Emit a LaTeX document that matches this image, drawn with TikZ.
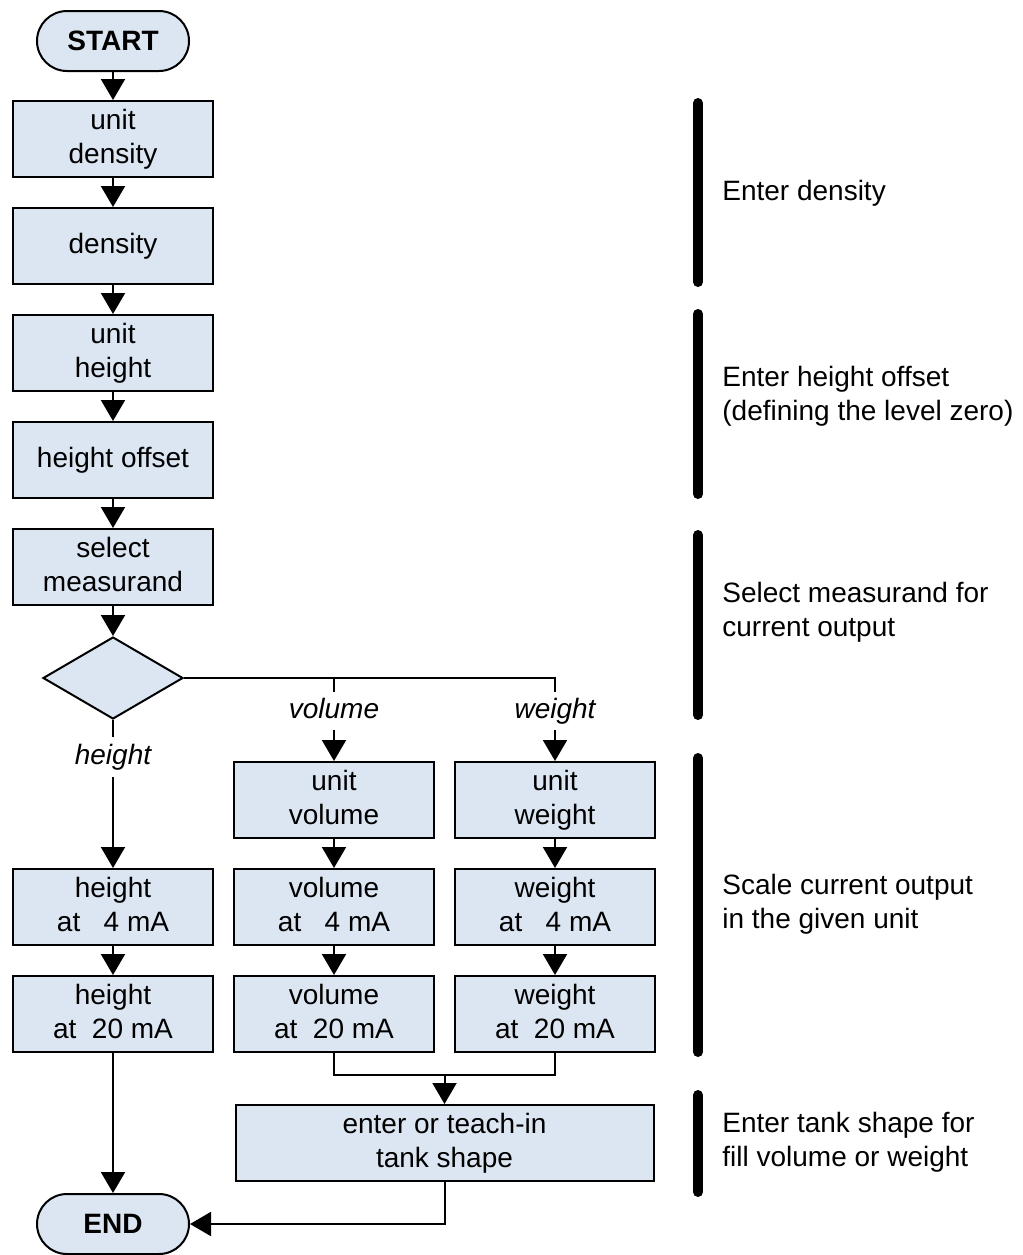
\documentclass[tikz,border=0pt]{standalone}
\usepackage{fontspec}
\setmainfont{Liberation Sans}
\usepackage{xcolor}
\usetikzlibrary{arrows.meta,positioning,shapes.geometric,calc}
\definecolor{boxfill}{RGB}{220,230,242}

\begin{document}
\begin{tikzpicture}[
  x=0.5pt, y=-0.5pt,
  font=\fontsize{14}{17}\selectfont,
  node distance=14.5pt and 9.5pt,
  box/.style={draw, fill=boxfill, line width=1pt, align=center,
      minimum width=100pt, minimum height=38pt, inner sep=1.5pt,
      execute at begin node={\rule{0pt}{10.5pt}},
      execute at end node={\rule[-3pt]{0pt}{3pt}}},
  term/.style={draw, fill=boxfill, line width=1pt, rounded corners=15pt,
      minimum width=76pt, minimum height=30pt,
      font=\fontsize{14}{17}\selectfont\bfseries},
  decision/.style={draw, fill=boxfill, line width=1pt, diamond,
      inner sep=0pt, minimum width=70pt, minimum height=41pt},
  branch/.style={inner sep=0pt, text height=10pt, text depth=3pt,
      font=\fontsize{14}{17}\selectfont\itshape},
  stage/.style={line width=5pt, line cap=round},
  note/.style={anchor=west, align=left, inner sep=0pt},
  link/.style={line width=1pt},
  arrow/.style={-{Triangle[length=10.5pt,width=12pt]}, line width=1pt}
]
\useasboundingbox (0,0) rectangle (1023,1255);
% main column
\node[term] (start) at (113,41) {START};
\node[box, below=14pt of start] (udens) {unit\\density};
\node[box, below=of udens] (dens) {density};
\node[box, below=of dens] (uheight) {unit\\height};
\node[box, below=of uheight] (offset) {height offset};
\node[box, below=of offset] (meas) {select\\measurand};
\node[decision, below=15pt of meas] (dia) {};
% branches
\node[box] (uvol) at (334,800) {unit\\volume};
\node[box, right=of uvol] (uwt) {unit\\weight};
\node[box, below=of uvol] (v4) {volume\\at\ \ \ 4 mA};
\node[box, below=of v4] (v20) {volume\\at\ \ 20 mA};
\node[box, below=of uwt] (w4) {weight\\at\ \ \ 4 mA};
\node[box, below=of w4] (w20) {weight\\at\ \ 20 mA};
\node[box, left=of v4] (h4) {height\\at\ \ \ 4 mA};
\node[box, below=of h4] (h20) {height\\at\ \ 20 mA};
\node[box, minimum width=209pt,
  below=25.5pt of $(v20.south)!0.5!(w20.south)$] (tank)
  {enter or teach-in\\tank shape};
\node[term] (endn) at (start |- 0,1224) {END};
\node[branch, minimum height=19pt] (lvol) at (uvol |- 0,711) {volume};
\node[branch, minimum height=19pt] (lwt) at (uwt |- 0,711) {weight};
\node[branch, minimum height=20pt] (lht) at (dia |- 0,757) {height};
\coordinate (merge) at ($(v20.south)!0.5!(w20.south)+(0,22)$);
% connectors
\draw[arrow] (start) -- (udens);
\draw[arrow] (udens) -- (dens);
\draw[arrow] (dens) -- (uheight);
\draw[arrow] (uheight) -- (offset);
\draw[arrow] (offset) -- (meas);
\draw[arrow] (meas) -- (dia);
\draw[link] (dia.east) -| (lwt);
\draw[link] (dia.east -| lvol) -- (lvol);
\draw[link] (dia) -- (lht);
\draw[arrow] (lvol) -- (uvol);
\draw[arrow] (lwt) -- (uwt);
\draw[arrow] (lht) -- (h4);
\draw[arrow] (uvol) -- (v4);
\draw[arrow] (v4) -- (v20);
\draw[arrow] (uwt) -- (w4);
\draw[arrow] (w4) -- (w20);
\draw[arrow] (h4) -- (h20);
\draw[link] (v20.south) |- (merge) -| (w20.south);
\draw[arrow] (merge) -- (tank);
\draw[arrow] (h20) -- (endn);
\draw[arrow] (tank.south) |- (endn.east);
% stages
\draw[stage] (698,103) -- (698,282);
\node[note] (sdens) at (722,193) {Enter density};
\draw[stage] (698,314) -- (698,494);
\node[note] (soff) at (722,396) {Enter height offset\\(defining the level zero)};
\draw[stage] (698,535) -- (698,715);
\node[note] (smeas) at (722,612) {Select measurand for\\current output};
\draw[stage] (698,758) -- (698,1052);
\node[note] (sscale) at (722,904) {Scale current output\\in the given unit};
\draw[stage] (698,1095) -- (698,1192);
\node[note] (stank) at (722,1142) {Enter tank shape for\\fill volume or weight};
\end{tikzpicture}
\end{document}
